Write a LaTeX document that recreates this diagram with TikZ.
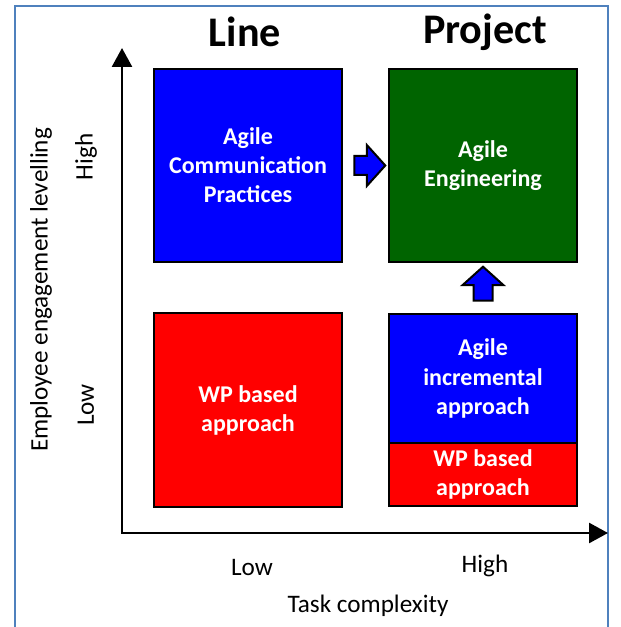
\documentclass[tikz,border=0pt]{standalone}
\usepackage{fontspec}
\setmainfont{Carlito}
\usepackage{tikz}
\usetikzlibrary{arrows.meta}
\usetikzlibrary{positioning,calc,shapes.arrows}
\definecolor{framecol}{RGB}{79,129,189}
\definecolor{boxblue}{RGB}{0,0,255}
\definecolor{boxred}{RGB}{255,0,0}
\definecolor{boxgreen}{RGB}{0,100,0}
\tikzset{
    quad/.style={
        draw=black,
        line width=0.06cm,
        minimum width=5.64cm,
        minimum height=5.79cm,
        outer sep=0pt,
        inner sep=2pt,
        align=center,
        text=white,
        font=\fontsize{20.5}{24.8}\selectfont\bfseries
    },
    blockarrow/.style={
        draw=black,
        fill=boxblue,
        single arrow,
        line width=0.06cm,
        minimum width=1.17cm,
        single arrow head extend=0.33cm,
        single arrow tip angle=96,
        inner sep=0.255cm
    },
    axis/.style={
        line width=0.08cm,
        {Triangle[length=0.57cm, width=0.6cm]}-{Triangle[length=0.57cm, width=0.6cm]}
    }
}
\tikzset{
  heading/.style={font=\fontsize{36}{40}\selectfont\bfseries},
  axislabel/.style={font=\fontsize{21.5}{24}\selectfont}
}

\begin{document}
\begin{tikzpicture}[x=0.03cm, y=-0.03cm]
  \useasboundingbox (0,0) rectangle (620,627);
  \draw[framecol, line width=0.06cm] (15,627) -- (15,6) -- (608,6) -- (608,627);

  \node[heading] (line) at (245,32) {Line};
  \node[heading] (project) at (485,32) {Project};

  \node[quad, fill=boxblue] (comm) at (248,165.5) {Agile\\Communication\\Practices};
  \node[quad, fill=boxgreen] (eng) at (483,165.5) {Agile\\Engineering};
  \node[quad, fill=boxred] (wpline) at (248,410) {WP based\\approach};
  \node[quad, fill=boxblue, minimum height=3.87cm] (incr) at (483,378.5) {Agile\\incremental\\approach};
  \node[quad, fill=boxred, minimum height=1.89cm, below=0pt of incr] (wpproj) {WP based\\approach};

  \node[blockarrow, minimum height=0.93cm] (toeng) at ($(comm.east)!0.5!(eng.west)$) {};
  \node[blockarrow, minimum height=1.02cm, shape border rotate=90] (up) at ($(eng.south)!0.5!(incr.north)$) {};

  \coordinate (origin) at (122,533);
  \coordinate (ytip) at (122,48);
  \coordinate (xtip) at (608,533);
  \draw[axis] (ytip) -- (origin) -- (xtip);

  \node[axislabel, rotate=90] (yhigh) at (86,157) {High};
  \node[axislabel, rotate=90] (ylow) at (86,405) {Low};
  \node[axislabel, rotate=90] (ytitle) at (41,290) {Employee engagement levelling};
  \node[axislabel] (xlow) at (252,567) {Low};
  \node[axislabel] (xhigh) at (485,566) {High};
  \node[axislabel] (xtitle) at (368,606) {Task complexity};
\end{tikzpicture}
\end{document}
